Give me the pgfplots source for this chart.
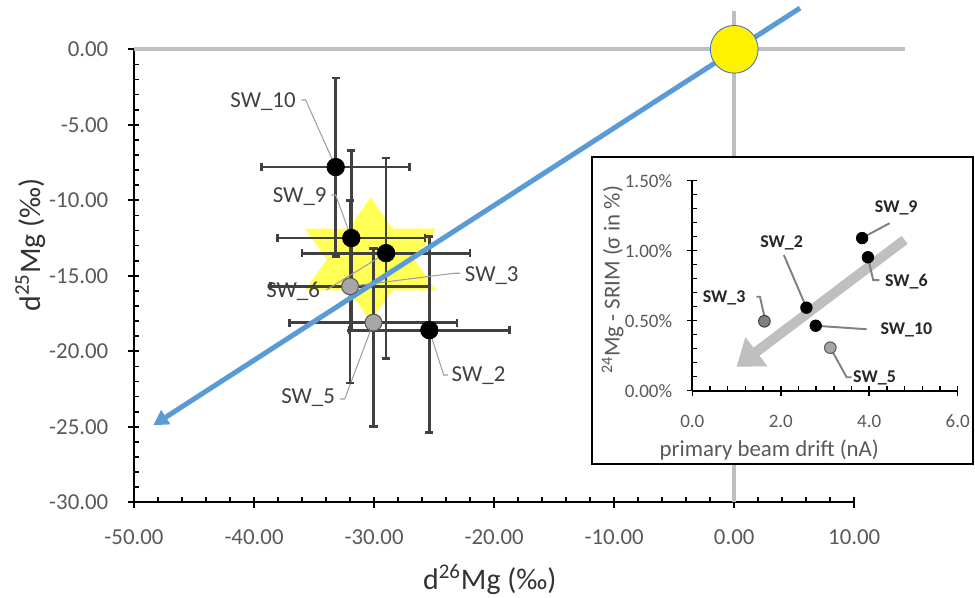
\documentclass[border=0pt]{standalone}
\usepackage{fontspec}
\setmainfont{Carlito}
\usepackage{pgfplots}
\pgfplotsset{compat=1.18}
\usetikzlibrary{arrows.meta}

\definecolor{gline}{RGB}{191,191,191}
\definecolor{mblue}{RGB}{91,155,213}
\definecolor{sunedge}{RGB}{68,114,196}
\definecolor{barcol}{RGB}{64,64,64}
\definecolor{tickgray}{RGB}{89,89,89}
\definecolor{starcol}{RGB}{255,255,85}
\definecolor{ptgray}{RGB}{166,166,166}
\definecolor{ptdgray}{RGB}{127,127,127}
\definecolor{leader}{RGB}{160,160,160}
\definecolor{ileader}{RGB}{128,128,128}

\pgfkeys{/pgf/number format/assume math mode=true}

\begin{document}
\begin{tikzpicture}
\path[use as bounding box] (-26.8mm,-19.14mm) rectangle (168.2mm,100.46mm);

% ---- main plot
\begin{axis}[
    at={(0,0)}, anchor=south west,
    scale only axis, width=144.06mm, height=90.6mm,
    xmin=-50, xmax=10, ymin=-30, ymax=0,
    clip=false,
    unbounded coords=jump,
    axis x line*=bottom, axis y line*=left,
    axis line style={line width=1.1pt, black},
    xtick={-50,-40,...,10}, ytick={-30,-25,...,0},
    minor x tick num=4, minor y tick num=4,
    tick align=center,
    major tick length=2.2mm, minor tick length=1mm,
    every tick/.style={black, line width=1pt},
    every minor x tick/.append style={yshift=0.5mm},
    every minor y tick/.append style={xshift=0.5mm},
    tick label style={font=\fontsize{13}{15}\selectfont, text=tickgray},
    xticklabel style={yshift=-3.2mm, /pgf/number format/.cd, fixed, fixed zerofill, precision=2},
    yticklabel style={xshift=-2.8mm, /pgf/number format/.cd, fixed, fixed zerofill, precision=2},
    xlabel={d\textsuperscript{26}Mg (‰)},
    ylabel={d\textsuperscript{25}Mg (‰)},
    every axis x label/.style={at={(axis description cs:0.494,-0.171)}, anchor=center,
      font=\fontsize{17}{20}\selectfont, text=black!80},
    every axis y label/.style={at={(axis description cs:-0.144,0.568)}, rotate=90, anchor=center,
      font=\fontsize{17}{20}\selectfont, text=black!80},
]
% zero lines
\addplot[gline, line width=0.8mm] coordinates {(-50,0) (14.2,0)};
\addplot[gline, line width=0.8mm] coordinates {(0,2.55) (0,-30)};

% yellow star
\addplot[fill=starcol, draw=none] coordinates {
  (-30.29,-9.81) (-28.47,-11.87) (-24.81,-11.87) (-26.65,-13.92)
  (-24.81,-15.97) (-28.47,-15.97) (-30.29,-18.03) (-32.11,-15.97)
  (-35.77,-15.97) (-33.93,-13.92) (-35.77,-11.87) (-32.11,-11.87)
} -- cycle;

% error bars: horizontal (d26Mg) and vertical (d25Mg)
\addplot[barcol, line width=1.55pt, mark=|, mark size=2.3pt] coordinates {
  (-39.35,-7.8)  (-27.05,-7.8)  (nan,nan)
  (-38.05,-12.5) (-25.75,-12.5) (nan,nan)
  (-36.0,-13.5)  (-22.0,-13.5)  (nan,nan)
  (-38.6,-15.7)  (-25.4,-15.7)  (nan,nan)
  (-37.05,-18.1) (-23.1,-18.1)  (nan,nan)
  (-32.1,-18.6)  (-18.7,-18.6)
};
\addplot[barcol, line width=1.55pt, mark=-, mark size=2.3pt] coordinates {
  (-33.2,-1.9)   (-33.2,-13.7)  (nan,nan)
  (-31.9,-6.7)   (-31.9,-18.6)  (nan,nan)
  (-29.0,-7.2)   (-29.0,-20.5)  (nan,nan)
  (-32.0,-10.0)  (-32.0,-22.1)  (nan,nan)
  (-30.05,-13.2) (-30.05,-25.0) (nan,nan)
  (-25.4,-12.4)  (-25.4,-25.4)
};

% mass fractionation line
\addplot[mblue, line width=1mm, -{Triangle[width=3.2mm,length=3mm]}]
  coordinates {(5.48,2.73) (-48.4,-24.9)};

% black points
\addplot[only marks, mark=*, mark size=5pt, mark options={fill=black, draw=black}]
  coordinates {(-33.2,-7.8) (-31.9,-12.5) (-29.0,-13.5) (-25.4,-18.6)};
% gray points
\addplot[only marks, mark=*, mark size=4.8pt, mark options={fill=ptgray, draw=tickgray, line width=0.6pt}]
  coordinates {(-32.0,-15.7) (-30.05,-18.1)};

% reference point
\addplot[only marks, mark=*, mark size=13.6pt, mark options={fill=yellow, draw=sunedge, line width=0.5pt}]
  coordinates {(0,0)};

% labels
\begin{scope}[every node/.style={font=\fontsize{13}{15}\selectfont, text=barcol}]
\node at (axis cs:-39.25,-3.47) {SW\_10};
\node at (axis cs:-36.2,-9.76) {SW\_9};
\node at (axis cs:-36.75,-16.05) {SW\_6};
\node at (axis cs:-20.2,-15.0) {SW\_3};
\node at (axis cs:-35.5,-23.1) {SW\_5};
\node at (axis cs:-21.3,-21.6) {SW\_2};
\end{scope}
\begin{scope}[leader, line width=0.6pt]
\draw (axis cs:-36.05,-3.36) -- (axis cs:-35.7,-3.36) -- (axis cs:-33.2,-7.8);
\draw (axis cs:-33.55,-9.65) -- (axis cs:-33.2,-9.65) -- (axis cs:-31.9,-12.5);
\draw (axis cs:-33.97,-15.94) -- (axis cs:-33.5,-15.7) -- (axis cs:-29.0,-13.5);
\draw (axis cs:-22.86,-14.83) -- (axis cs:-23.3,-14.83) -- (axis cs:-32.0,-15.7);
\draw (axis cs:-32.86,-23.16) -- (axis cs:-32.45,-23.16) -- (axis cs:-30.05,-18.1);
\draw (axis cs:-23.83,-21.57) -- (axis cs:-24.2,-21.57) -- (axis cs:-25.4,-18.6);
\end{scope}
\end{axis}

% ---- inset frame
\draw[fill=white, line width=0.4mm] (91.6mm,7.66mm) rectangle (167.8mm,69.06mm);

% ---- inset plot
\begin{axis}[
    at={(111.66mm,22.32mm)}, anchor=south west,
    scale only axis, width=53.08mm, height=42mm,
    xmin=0, xmax=6, ymin=0, ymax=1.5,
    clip=false,
    axis x line*=bottom, axis y line*=left,
    axis line style={line width=1pt, black},
    xtick={0,2,4,6}, ytick={0,0.5,1,1.5},
    minor x tick num=4, minor y tick num=4,
    tick align=center,
    major tick length=2mm, minor tick length=0.9mm,
    every tick/.style={black, line width=0.9pt},
    every minor x tick/.append style={yshift=0.45mm},
    every minor y tick/.append style={xshift=0.45mm},
    tick label style={font=\fontsize{10.8}{13}\selectfont, text=tickgray},
    xticklabel style={yshift=-2.6mm, /pgf/number format/.cd, fixed, fixed zerofill, precision=1},
    yticklabel={\pgfmathprintnumber[fixed,fixed zerofill,precision=2]{\tick}\%},
    yticklabel style={xshift=-1.8mm},
    xlabel={primary beam drift (nA)},
    ylabel={\textsuperscript{24}Mg - SRIM (σ in \%)},
    every axis x label/.style={at={(axis description cs:0.29,-0.283)}, anchor=center,
      font=\fontsize{13}{15}\selectfont, text=tickgray},
    every axis y label/.style={at={(axis description cs:-0.3,0.527)}, rotate=90, anchor=center,
      font=\fontsize{13}{15}\selectfont, text=tickgray},
]
\draw[gline, line width=2mm, -{Triangle[width=7mm,length=5mm]}]
  (axis cs:4.8,1.077) -- (axis cs:1.0,0.171);

\begin{scope}[ileader, line width=1.1pt]
\draw (axis cs:4.46,1.196) -- (axis cs:3.95,1.11);
\draw (axis cs:2.07,0.969) -- (axis cs:2.58,0.593);
\draw (axis cs:4.23,0.79) -- (axis cs:4.09,0.79) -- (axis cs:3.97,0.953);
\draw (axis cs:1.45,0.671) -- (axis cs:1.53,0.671) -- (axis cs:1.63,0.53);
\draw (axis cs:3.94,0.439) -- (axis cs:2.79,0.464);
\draw (axis cs:3.6,0.096) -- (axis cs:3.49,0.096) -- (axis cs:3.12,0.307);
\end{scope}

\addplot[only marks, mark=*, mark size=3.3pt, mark options={fill=black, draw=black}]
  coordinates {(3.84,1.09) (3.97,0.953) (2.58,0.593) (2.79,0.464)};
\addplot[only marks, mark=*, mark size=3.3pt, mark options={fill=ptdgray, draw=barcol, line width=0.6pt}]
  coordinates {(1.63,0.496)};
\addplot[only marks, mark=*, mark size=3.3pt, mark options={fill=ptgray, draw=tickgray, line width=0.6pt}]
  coordinates {(3.12,0.307)};

\begin{scope}[every node/.style={font=\bfseries\fontsize{10.2}{12}\selectfont, text=black!85}]
\node at (axis cs:4.61,1.303) {SW\_9};
\node at (axis cs:2.02,1.053) {SW\_2};
\node at (axis cs:4.84,0.779) {SW\_6};
\node at (axis cs:0.72,0.66) {SW\_3};
\node at (axis cs:4.84,0.434) {SW\_10};
\node at (axis cs:4.12,0.089) {SW\_5};
\end{scope}
\end{axis}
\end{tikzpicture}
\end{document}
